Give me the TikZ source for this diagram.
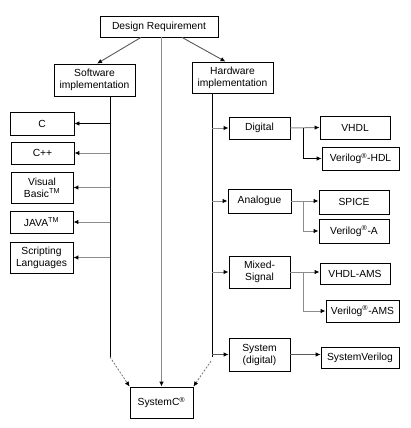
\documentclass[tikz,border=0pt]{standalone}
\usepackage{fontspec}
\setmainfont{Liberation Sans}
\usetikzlibrary{arrows.meta,calc}
\begin{document}
\begin{tikzpicture}[x=1pt,y=-1pt,
  box/.style={draw=black,line width=0.8pt,fill=white,inner sep=0pt,align=center,font=\fontsize{10.3}{12}\selectfont},
  blk/.style={draw=black,line width=0.8pt},
  gry/.style={draw=black!45,line width=1pt},
  dgry/.style={draw=black!65,line width=0.9pt},
  tip/.style={-{Latex[length=5pt,width=4.5pt,color=black]}},
  dots/.style={draw=black!55,line width=0.8pt,dash pattern=on 2pt off 1.5pt}
]
\useasboundingbox (0,0) rectangle (411,428);
\newcommand{\bx}[6]{\node[box,minimum width=#3,minimum height=#4] (#1) at (#2) {#5};}
% nodes
\node[box,minimum width=118,minimum height=21] (dr) at (159,26.5) {Design Requirement};
\node[box,minimum width=81,minimum height=32] (sw) at (94.5,80) {Software\\implementation};
\node[box,minimum width=81,minimum height=31] (hw) at (232.5,77.5) {Hardware\\implementation};
\node[box,minimum width=64,minimum height=23] (c) at (42,123.5) {C};
\node[box,minimum width=63,minimum height=22] (cpp) at (42.5,153) {C++};
\node[box,minimum width=62,minimum height=31] (vb) at (42,187.5) {Visual\\Basic\textsuperscript{TM}};
\node[box,minimum width=63,minimum height=22] (java) at (41.5,222) {JAVA\textsuperscript{TM}};
\node[box,minimum width=63,minimum height=31] (script) at (41.5,257.5) {Scripting\\Languages};
\node[box,minimum width=61,minimum height=22] (digital) at (259.5,128) {Digital};
\node[box,minimum width=70,minimum height=23] (vhdl) at (355,127.5) {VHDL};
\node[box,minimum width=77,minimum height=23] (vhdlv) at (360.5,158.5) {Verilog\textsuperscript{®}-HDL};
\node[box,minimum width=63,minimum height=24] (analogue) at (259.5,201) {Analogue};
\node[box,minimum width=70,minimum height=24] (spice) at (354,202) {SPICE};
\node[box,minimum width=70,minimum height=24] (veriloga) at (354,231) {Verilog\textsuperscript{®}-A};
\node[box,minimum width=61,minimum height=32] (mixed) at (259.5,272) {Mixed-\\Signal};
\node[box,minimum width=70,minimum height=21] (vhdlams) at (355,273.5) {VHDL-AMS};
\node[box,minimum width=73,minimum height=22] (verilogams) at (362.5,311) {Verilog\textsuperscript{®}-AMS};
\node[box,minimum width=61,minimum height=33] (system) at (259.5,354.5) {System\\(digital)};
\node[box,minimum width=78,minimum height=21] (sysverilog) at (360,357.5) {SystemVerilog};
\node[box,minimum width=63,minimum height=31] (systemc) at (161.5,402.5) {SystemC\textsuperscript{®}};
% bus coordinates
\coordinate (swtop) at (110,96);
\coordinate (swbot) at (110,357);
\coordinate (hwtop) at (212,93);
\coordinate (hwbot) at (212,357);
\coordinate (dbr) at (303,128);
\coordinate (abr) at (303,202);
\coordinate (mbr) at (303,273);
% top arrows
\draw[dgry,tip] ($(dr.south)+(-18,0)$) -- ($(sw.north)+(2.5,0)$);
\draw[dgry,tip] ($(dr.south)+(23,0)$) -- ($(hw.north)+(-7,0)$);
\draw[gry,tip] (systemc.north |- dr.south) -- (systemc.north);
% software bus
\draw[blk] (swtop) -- (swbot);
\draw[blk,tip] (swtop |- c.east) -- (c.east);
\draw[gry,tip] (swtop |- cpp.east) -- (cpp.east);
\draw[gry,tip] (swtop |- vb.east) -- (vb.east);
\draw[gry,tip] (swtop |- java.east) -- (java.east);
\draw[gry,tip] (swtop |- script.east) -- (script.east);
\draw[dots,tip] (swbot) -- (systemc.north west);
% hardware bus
\draw[blk] (hwtop) -- (hwbot);
\draw[gry,tip] (hwtop |- digital.west) -- (digital.west);
\draw[gry,tip] (hwtop |- analogue.west) -- (analogue.west);
\draw[gry,tip] (hwtop |- mixed.west) -- (mixed.west);
\draw[dgry,tip] (hwtop |- system.west) -- (system.west);
\draw[dots,tip] ($(hwbot)+(-1,4)$) -- (systemc.north east);
% digital
\draw[gry,tip] (digital.east) -- (vhdl.west);
\draw[blk,tip] (dbr) |- (vhdlv.west);
% analogue
\draw[gry,tip] (analogue.east) -- (analogue.east -| spice.west);
\draw[gry,tip] (abr) |- (veriloga.west);
% mixed
\draw[gry,tip] (mixed.east) -- (mixed.east -| vhdlams.west);
\draw[gry,tip] (mbr) |- (verilogams.west);
% system
\draw[dgry,tip] (system.east) -- (system.east -| sysverilog.west);
\end{tikzpicture}
\end{document}
